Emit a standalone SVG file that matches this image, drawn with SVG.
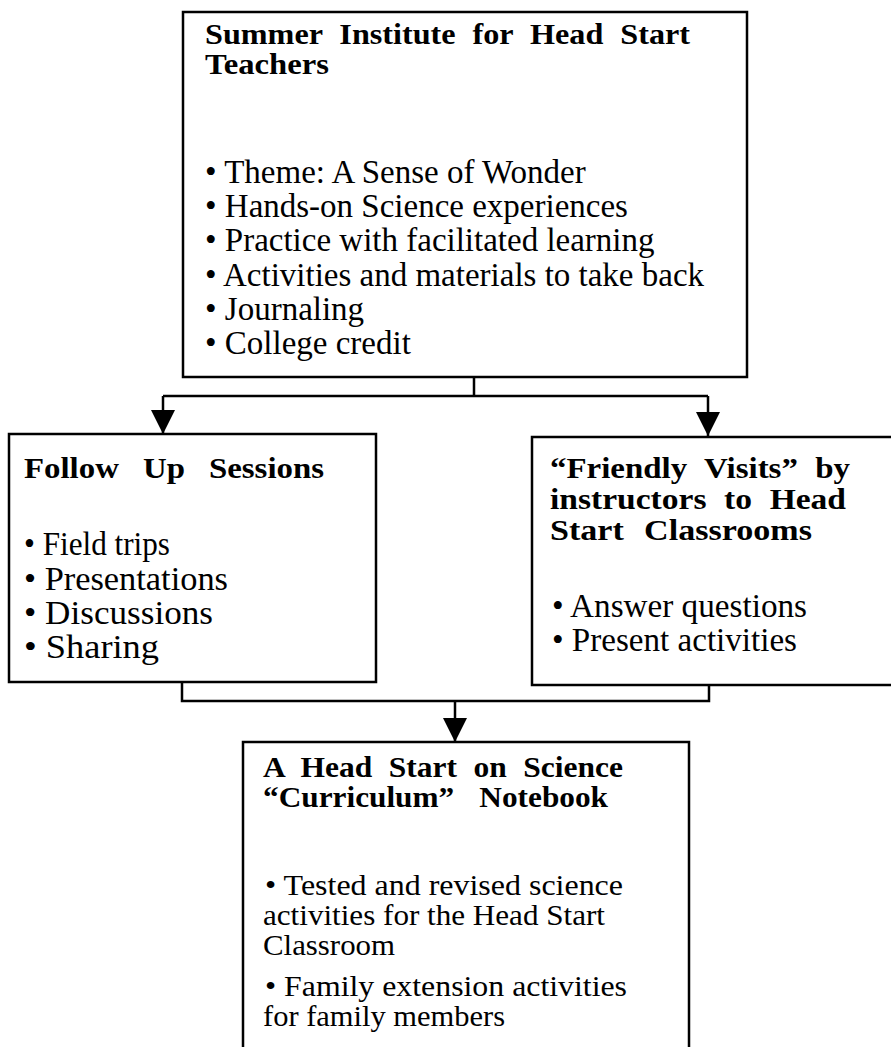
<svg xmlns="http://www.w3.org/2000/svg" width="891" height="1047" viewBox="0 0 891 1047">
<style>
.box{fill:#fff;stroke:#000;stroke-width:2.5}
.t{font-family:"Liberation Serif","Times New Roman",serif;font-weight:bold;font-size:29px;fill:#000}
.b{font-family:"Liberation Serif","Times New Roman",serif;font-size:33px;fill:#000}
.bb{font-family:"Liberation Serif","Times New Roman",serif;font-size:30px;fill:#000}
.c{font-family:"Liberation Serif","Times New Roman",serif;font-size:34px;fill:#000}
.ct{font-family:"Liberation Serif","Times New Roman",serif;font-weight:bold;font-size:29px;fill:#000}
.ln{fill:none;stroke:#000;stroke-width:2.5}
</style>
<defs>
<marker id="ah" markerUnits="userSpaceOnUse" markerWidth="24" markerHeight="24" viewBox="0 0 24 24" refX="24" refY="12" orient="auto">
<path d="M0,0 L24,12 L0,24 Z" fill="#000"/>
</marker>
</defs>
<rect width="891" height="1047" fill="#fff"/>
<g id="connectors">
<path class="ln" d="M474,377 V396 M163,396 H708"/>
<path class="ln" d="M163,396 V434" marker-end="url(#ah)"/>
<path class="ln" d="M708,396 V436" marker-end="url(#ah)"/>
<path class="ln" d="M182,682 V701 H709 V685"/>
<path class="ln" d="M455,701 V742" marker-end="url(#ah)"/>
</g>
<g id="summer-institute">
<rect class="box" x="183" y="12" width="564" height="365"/>
<text class="t" x="205" y="44" word-spacing="8" textLength="485" lengthAdjust="spacingAndGlyphs">Summer Institute for Head Start</text>
<text class="t" x="205" y="74" textLength="124" lengthAdjust="spacingAndGlyphs">Teachers</text>
<text class="b" x="205" y="183">• Theme: A Sense of Wonder</text>
<text class="b" x="205" y="217">• Hands-on Science experiences</text>
<text class="b" x="205" y="251">• Practice with facilitated learning</text>
<text class="b" x="205" y="286">• Activities and materials to take back</text>
<text class="b" x="205" y="320">•  Journaling</text>
<text class="b" x="205" y="354">• College credit</text>
</g>
<g id="follow-up">
<rect class="box" x="9" y="434" width="367" height="248"/>
<text class="ct" x="24" y="478" word-spacing="14" textLength="300" lengthAdjust="spacingAndGlyphs">Follow Up Sessions</text>
<text class="c" x="24" y="555" textLength="146" lengthAdjust="spacingAndGlyphs">• Field trips</text>
<text class="c" x="24" y="590" textLength="204" lengthAdjust="spacingAndGlyphs">• Presentations</text>
<text class="c" x="24" y="624" textLength="189" lengthAdjust="spacingAndGlyphs">• Discussions</text>
<text class="c" x="24" y="658" textLength="135" lengthAdjust="spacingAndGlyphs">• Sharing</text>
</g>
<g id="friendly-visits">
<rect class="box" x="532" y="437" width="370" height="248"/>
<text class="ct" x="550" y="478" word-spacing="8" textLength="300" lengthAdjust="spacingAndGlyphs">“Friendly Visits” by</text>
<text class="ct" x="550" y="509" word-spacing="8" textLength="296" lengthAdjust="spacingAndGlyphs">instructors to Head</text>
<text class="ct" x="550" y="540" word-spacing="10" textLength="262" lengthAdjust="spacingAndGlyphs">Start Classrooms</text>
<text class="c" x="552" y="617" textLength="255" lengthAdjust="spacingAndGlyphs">• Answer questions</text>
<text class="c" x="552" y="651" textLength="245" lengthAdjust="spacingAndGlyphs">• Present activities</text>
</g>
<g id="notebook">
<rect class="box" x="243" y="742" width="446" height="320"/>
<text class="t" x="263" y="777" word-spacing="8" textLength="360" lengthAdjust="spacingAndGlyphs">A Head Start on Science</text>
<text class="t" x="263" y="807" word-spacing="16" textLength="345" lengthAdjust="spacingAndGlyphs">“Curriculum” Notebook</text>
<text class="bb" x="265" y="895" textLength="358" lengthAdjust="spacingAndGlyphs">• Tested and revised science</text>
<text class="bb" x="263" y="925" textLength="342" lengthAdjust="spacingAndGlyphs">activities for the Head Start</text>
<text class="bb" x="263" y="955" textLength="132" lengthAdjust="spacingAndGlyphs">Classroom</text>
<text class="bb" x="265" y="996" textLength="362" lengthAdjust="spacingAndGlyphs">• Family extension activities</text>
<text class="bb" x="263" y="1026" textLength="242" lengthAdjust="spacingAndGlyphs">for family members</text>
</g>
</svg>
